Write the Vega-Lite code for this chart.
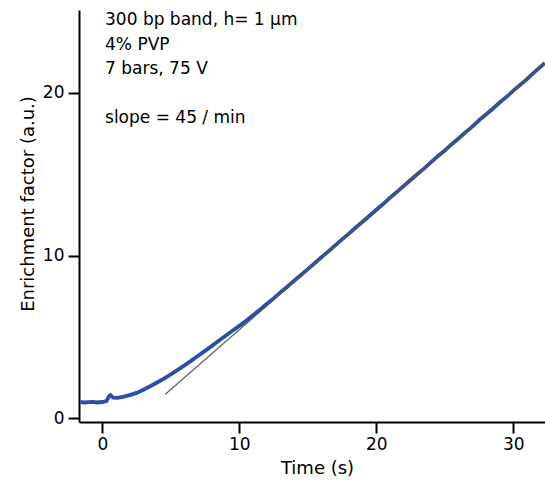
{
  "$schema": "https://vega.github.io/schema/vega-lite/v6.json",
  "width": 466,
  "height": 412,
  "autosize": {"type": "none"},
  "padding": {"left": 79, "top": 10, "right": 0, "bottom": 62},
  "background": "white",
  "config": {
    "view": {"stroke": null},
    "font": "DejaVu Sans",
    "axis": {
      "grid": false,
      "domainColor": "black",
      "domainWidth": 2,
      "tickColor": "black",
      "tickWidth": 2,
      "tickSize": 11,
      "labelFontSize": 17,
      "labelColor": "black",
      "labelFont": "DejaVu Sans",
      "titleFont": "DejaVu Sans",
      "titleFontSize": 18,
      "titleFontWeight": "normal",
      "titleColor": "black",
      "labelFlush": false,
      "labelOverlap": false
    }
  },
  "datasets": {
    "curve": [
      {"time": -1.6, "enrichment": 1.0},
      {"time": -1.3, "enrichment": 0.97},
      {"time": -1.0, "enrichment": 0.99},
      {"time": -0.7, "enrichment": 1.01},
      {"time": -0.4, "enrichment": 0.97},
      {"time": 0.0, "enrichment": 1.0},
      {"time": 0.3, "enrichment": 1.05},
      {"time": 0.5, "enrichment": 1.36},
      {"time": 0.6, "enrichment": 1.42},
      {"time": 0.8, "enrichment": 1.27},
      {"time": 1.1, "enrichment": 1.25},
      {"time": 1.5, "enrichment": 1.32},
      {"time": 2.0, "enrichment": 1.42},
      {"time": 2.5, "enrichment": 1.56},
      {"time": 3.0, "enrichment": 1.75},
      {"time": 3.5, "enrichment": 1.97},
      {"time": 4.0, "enrichment": 2.2},
      {"time": 4.5, "enrichment": 2.44},
      {"time": 5.0, "enrichment": 2.7},
      {"time": 5.5, "enrichment": 2.97},
      {"time": 6.0, "enrichment": 3.25},
      {"time": 6.5, "enrichment": 3.54},
      {"time": 7.0, "enrichment": 3.84},
      {"time": 7.5, "enrichment": 4.14},
      {"time": 8.0, "enrichment": 4.45},
      {"time": 8.5, "enrichment": 4.76},
      {"time": 9.0, "enrichment": 5.07},
      {"time": 9.5, "enrichment": 5.38},
      {"time": 10.0, "enrichment": 5.68},
      {"time": 10.5, "enrichment": 6.0},
      {"time": 11.0, "enrichment": 6.33},
      {"time": 11.5, "enrichment": 6.67},
      {"time": 12.0, "enrichment": 7.02},
      {"time": 12.5, "enrichment": 7.37},
      {"time": 13.0, "enrichment": 7.74},
      {"time": 13.5, "enrichment": 8.09},
      {"time": 14.0, "enrichment": 8.45},
      {"time": 14.5, "enrichment": 8.81},
      {"time": 15.0, "enrichment": 9.17},
      {"time": 15.5, "enrichment": 9.53},
      {"time": 16.0, "enrichment": 9.91},
      {"time": 16.5, "enrichment": 10.26},
      {"time": 17.0, "enrichment": 10.63},
      {"time": 17.5, "enrichment": 11.0},
      {"time": 18.0, "enrichment": 11.35},
      {"time": 18.5, "enrichment": 11.73},
      {"time": 19.0, "enrichment": 12.08},
      {"time": 19.5, "enrichment": 12.45},
      {"time": 20.0, "enrichment": 12.82},
      {"time": 20.5, "enrichment": 13.17},
      {"time": 21.0, "enrichment": 13.56},
      {"time": 21.5, "enrichment": 13.92},
      {"time": 22.0, "enrichment": 14.28},
      {"time": 22.5, "enrichment": 14.65},
      {"time": 23.0, "enrichment": 15.02},
      {"time": 23.5, "enrichment": 15.36},
      {"time": 24.0, "enrichment": 15.75},
      {"time": 24.5, "enrichment": 16.12},
      {"time": 25.0, "enrichment": 16.46},
      {"time": 25.5, "enrichment": 16.85},
      {"time": 26.0, "enrichment": 17.2},
      {"time": 26.5, "enrichment": 17.58},
      {"time": 27.0, "enrichment": 17.93},
      {"time": 27.5, "enrichment": 18.32},
      {"time": 28.0, "enrichment": 18.67},
      {"time": 28.5, "enrichment": 19.03},
      {"time": 29.0, "enrichment": 19.41},
      {"time": 29.5, "enrichment": 19.76},
      {"time": 30.0, "enrichment": 20.14},
      {"time": 30.5, "enrichment": 20.5},
      {"time": 31.0, "enrichment": 20.86},
      {"time": 31.5, "enrichment": 21.25},
      {"time": 32.0, "enrichment": 21.62},
      {"time": 32.3, "enrichment": 21.84}
    ],
    "fit": [
      {"time": 4.6, "enrichment": 1.48},
      {"time": 32.3, "enrichment": 21.84}
    ]
  },
  "layer": [
    {
      "data": {"name": "curve"},
      "mark": {"type": "line", "color": "#2b4fa3", "strokeWidth": 3.8, "clip": true},
      "encoding": {
        "x": {
          "field": "time",
          "type": "quantitative",
          "scale": {"domain": [-1.7, 32.31], "nice": false, "zero": false},
          "axis": {
            "values": [0, 10, 20, 30],
            "title": "Time (s)",
            "labelPadding": 3,
            "titleX": 238,
            "titleY": 51,
            "titleBaseline": "alphabetic",
            "titleAlign": "center"
          }
        },
        "y": {
          "field": "enrichment",
          "type": "quantitative",
          "scale": {"domain": [-0.23, 25.1], "nice": false, "zero": false},
          "axis": {
            "values": [0, 10, 20],
            "title": "Enrichment factor (a.u.)",
            "labelPadding": 4,
            "titleX": -46,
            "titleY": 193.5,
            "titleAngle": -90,
            "titleBaseline": "alphabetic",
            "titleAlign": "center"
          }
        }
      }
    },
    {
      "data": {"name": "fit"},
      "mark": {"type": "line", "color": "#555555", "strokeWidth": 1.3, "opacity": 0.9, "clip": true},
      "encoding": {
        "x": {"field": "time", "type": "quantitative"},
        "y": {"field": "enrichment", "type": "quantitative"}
      }
    },
    {
      "data": {"values": [{"note": "conditions"}]},
      "mark": {
        "type": "text",
        "text": ["300 bp band, h= 1 µm", "4% PVP", "7 bars, 75 V"],
        "align": "left",
        "baseline": "alphabetic",
        "fontSize": 17,
        "lineHeight": 24.6,
        "color": "black"
      },
      "encoding": {
        "x": {"datum": 0.2, "type": "quantitative"},
        "y": {"datum": 24.18, "type": "quantitative"}
      }
    },
    {
      "data": {"values": [{"note": "slope"}]},
      "mark": {
        "type": "text",
        "text": "slope = 45 / min",
        "align": "left",
        "baseline": "alphabetic",
        "fontSize": 17,
        "color": "black"
      },
      "encoding": {
        "x": {"datum": 0.2, "type": "quantitative"},
        "y": {"datum": 18.13, "type": "quantitative"}
      }
    }
  ]
}
